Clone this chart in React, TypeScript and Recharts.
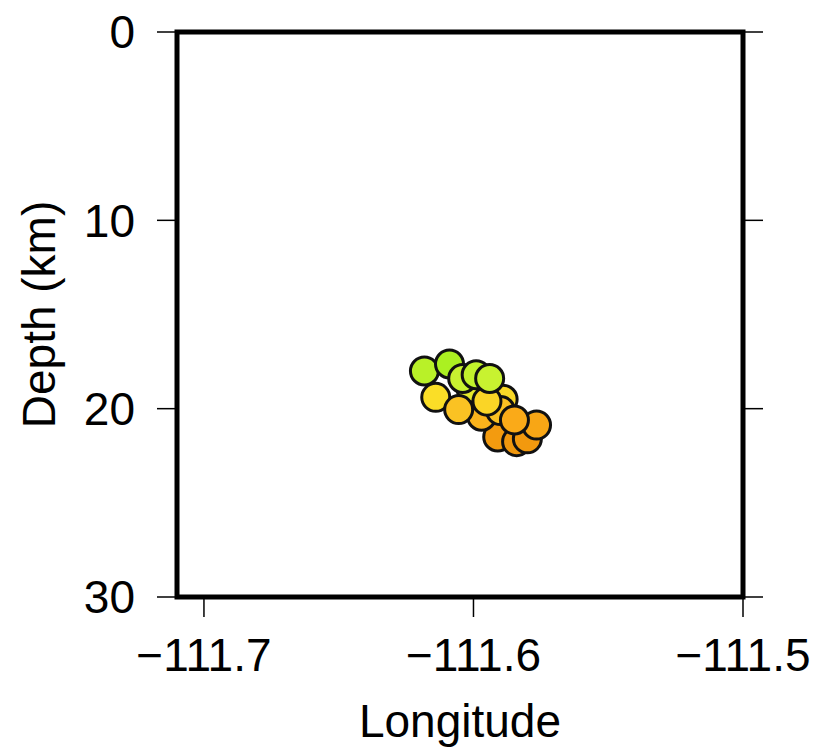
import {
  ReferenceArea,
  Scatter,
  ScatterChart,
  XAxis,
  YAxis,
} from "recharts";

// quake hypocentres, listed in drawing order (later ones sit on top)
const longitudes = [
  -111.591, -111.584, -111.58, -111.589, -111.597, -111.59, -111.601,
  -111.6182, -111.6089, -111.614, -111.6055, -111.595, -111.604, -111.599,
  -111.5766, -111.5848, -111.594,
];
const depths = [
  21.5, 21.75, 21.6, 19.5, 20.4, 20.1, 18.9, 18.0, 17.63, 19.4, 20.05, 19.6,
  18.4, 18.2, 20.87, 20.6, 18.4,
];

const lonTicks = [-111.7, -111.6, -111.5];
const depthTicks = [0, 10, 20, 30];

const quakes = longitudes.map((lon, i) => ({ lon, depth: depths[i] }));

const FONT = "'Liberation Sans', Arial, Helvetica, sans-serif";

// colour scale by depth: lime -> yellow -> orange
const stops: [number, number[]][] = [
  [17.6, [170, 240, 32]],
  [18.4, [200, 242, 48]],
  [19.3, [250, 226, 40]],
  [20.0, [250, 196, 36]],
  [20.6, [250, 170, 24]],
  [21.8, [240, 150, 12]],
];

function depthColor(d: number) {
  if (d <= stops[0][0]) return `rgb(${stops[0][1].join(",")})`;
  for (let i = 1; i < stops.length; i++) {
    if (d <= stops[i][0]) {
      const [d0, c0] = stops[i - 1];
      const [d1, c1] = stops[i];
      const t = (d - d0) / (d1 - d0);
      const c = c0.map((v, k) => Math.round(v + (c1[k] - v) * t));
      return `rgb(${c.join(",")})`;
    }
  }
  return `rgb(${stops[stops.length - 1][1].join(",")})`;
}

function QuakeDot(props: any) {
  const { cx, cy, payload } = props;
  return (
    <circle
      cx={cx}
      cy={cy}
      r={14}
      fill={depthColor(payload.depth)}
      stroke="#111"
      strokeWidth={3}
    />
  );
}

const fmtLon = (v: number) => `\u2212${Math.abs(v).toFixed(1)}`;

function XLabel(props: any) {
  const vb = props.viewBox;
  if (!vb) return null;
  return (
    <text
      x={vb.x + vb.width / 2}
      y={vb.y + 140}
      textAnchor="middle"
      fontSize={46}
      fontFamily={FONT}
      fill="#000"
    >
      Longitude
    </text>
  );
}

function YLabel(props: any) {
  const vb = props.viewBox;
  if (!vb) return null;
  const x = vb.x + 55;
  const y = vb.y + vb.height / 2;
  return (
    <text
      x={x}
      y={y}
      transform={`rotate(-90, ${x}, ${y})`}
      textAnchor="middle"
      fontSize={46}
      fontFamily={FONT}
      fill="#000"
    >
      Depth (km)
    </text>
  );
}

const tickStyle = { fill: "#000", fontSize: 46, fontFamily: FONT };
const tickLine = { stroke: "#000", strokeWidth: 1.5 };

export default function App() {
  return (
    <div style={{ position: "absolute", left: 0, top: 0, background: "#fff" }}>
      <ScatterChart
        width={825}
        height={750}
        margin={{ top: 0, right: 0, bottom: 0, left: 0 }}
      >
        <XAxis
          type="number"
          dataKey="lon"
          domain={[-111.71, -111.5]}
          ticks={lonTicks}
          tickFormatter={fmtLon}
          allowDataOverflow
          height={153}
          tickSize={20}
          tickMargin={21}
          axisLine={false}
          tickLine={tickLine}
          tick={tickStyle}
          label={<XLabel />}
        />
        <XAxis
          xAxisId="top"
          orientation="top"
          type="number"
          domain={[-111.71, -111.5]}
          ticks={lonTicks}
          tickFormatter={() => ""}
          allowDataOverflow
          height={32}
          tickSize={20}
          axisLine={false}
          tickLine={tickLine}
        />
        <YAxis
          type="number"
          dataKey="depth"
          domain={[0, 30]}
          ticks={depthTicks}
          reversed
          allowDataOverflow
          width={177}
          tickSize={20}
          tickMargin={22}
          axisLine={false}
          tickLine={tickLine}
          tick={tickStyle}
          label={<YLabel />}
        />
        <YAxis
          yAxisId="right"
          orientation="right"
          type="number"
          domain={[0, 30]}
          ticks={depthTicks}
          reversed
          allowDataOverflow
          width={82}
          tickSize={20}
          tickFormatter={() => ""}
          axisLine={false}
          tickLine={tickLine}
        />
        <ReferenceArea
          x1={-111.71}
          x2={-111.5}
          y1={0}
          y2={30}
          fill="none"
          fillOpacity={0}
          stroke="#000"
          strokeWidth={5}
          ifOverflow="visible"
        />
        <Scatter
          data={quakes}
          shape={<QuakeDot />}
          isAnimationActive={false}
        />
      </ScatterChart>
    </div>
  );
}
